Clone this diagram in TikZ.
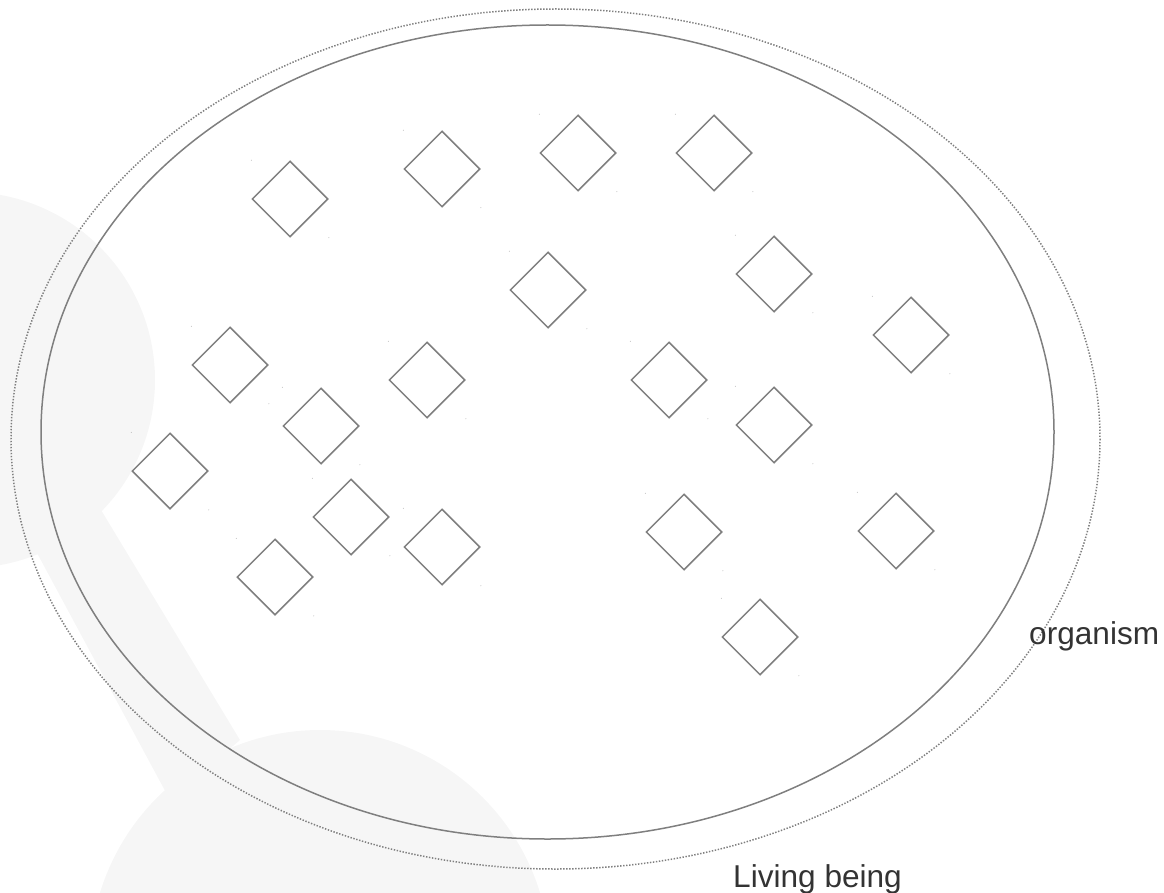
\documentclass[tikz,border=0pt]{standalone}
\usepackage{fontspec}
\setmainfont{Liberation Sans}
\usetikzlibrary{shapes.geometric}

\definecolor{linegray}{HTML}{7F7F7F}
\definecolor{textgray}{HTML}{333333}
\definecolor{faintgray}{HTML}{F6F6F6}

\tikzset{
    cell/.style={draw=linegray, line width=1.5pt, diamond, aspect=1, inner sep=0pt, minimum width=76pt, minimum height=76pt},
    tick/.style={fill=linegray!60, inner sep=0pt, minimum size=1pt, circle},
    caption/.style={text=textgray, inner sep=0pt, anchor=base west, font=\fontsize{31.6}{36}\selectfont}
}

\begin{document}
\begin{tikzpicture}[x=1pt, y=-1pt]
        \useasboundingbox (0,0) rectangle (1164,893);

        % Faint background
        \fill[faintgray] (-33,380) circle [radius=188];
        \fill[faintgray] (95,500) -- (240,740) -- (170,800) -- (30,540) -- cycle;
        \fill[faintgray] (320,960) circle [radius=230];

        % Living being and organism
        \draw[linegray, line width=1.5pt, dash pattern=on 1.4pt off 1.6pt] (555.5,439) ellipse [x radius=544.5, y radius=430];
        \draw[linegray, line width=1.5pt] (547.5,432) ellipse [x radius=506.5, y radius=407];

        % Cells
        \node[cell] (c1) at (290,199) {};
        \node[cell] (c2) at (442,169) {};
        \node[cell] (c3) at (578,153) {};
        \node[cell] (c4) at (714,153) {};
        \node[cell] (c5) at (548,290) {};
        \node[cell] (c6) at (774,274) {};
        \node[cell] (c7) at (911,335) {};
        \node[cell] (c8) at (230,365) {};
        \node[cell] (c9) at (427,380) {};
        \node[cell] (c10) at (669,380) {};
        \node[cell] (c11) at (321,426) {};
        \node[cell] (c12) at (774,425) {};
        \node[cell] (c13) at (170,471) {};
        \node[cell] (c14) at (351,517) {};
        \node[cell] (c15) at (442,547) {};
        \node[cell] (c16) at (684,532) {};
        \node[cell] (c17) at (896,531) {};
        \node[cell] (c18) at (275,577) {};
        \node[cell] (c19) at (760,637) {};

        % Corner marks
        \foreach \c in {c1,c2,c3,c4,c5,c6,c7,c8,c9,c10,c11,c12,c13,c14,c15,c16,c17,c18,c19} {
            \node[tick] at (\c.west |- \c.north) {};
            \node[tick] at (\c.east |- \c.south) {};
        }

        % Labels
        \node[caption] (org) at (1029,644) {organism};
        \node[caption] (being) at (733,887) {Living being};
    \end{tikzpicture}
\end{document}
